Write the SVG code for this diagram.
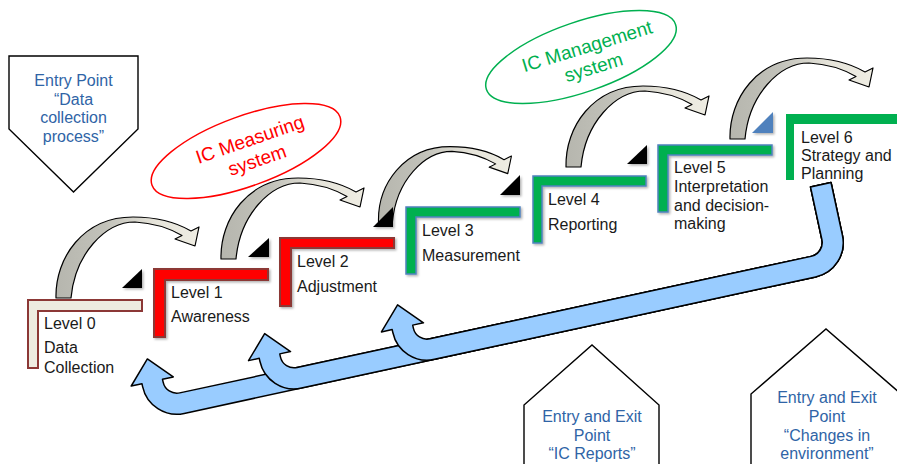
<svg xmlns="http://www.w3.org/2000/svg" width="897" height="464" viewBox="0 0 897 464">
<style>
  text { font-family: "Liberation Sans", Arial, Helvetica, sans-serif; font-size: 16px; }
  .lbl { fill: #1a1a1a; }
  .ent { fill: #2f64a6; text-anchor: middle; }
  .pent { fill: #ffffff; stroke: #000000; stroke-width: 1.4; }
  .red { fill: #ff0000; stroke: #8c3836; stroke-width: 2; }
  .cream { fill: #eeece1; stroke: #8c3836; stroke-width: 2; }
  .grn { fill: #00b050; stroke: #4f81bd; stroke-width: 1.5; }
  .tri { fill: #000000; }
  .garrow { fill: url(#gg); stroke: #000000; stroke-width: 1.2; stroke-linejoin: round; }
  .barrow { fill: #99ccff; stroke: #000000; stroke-width: 1.5; stroke-linejoin: round; }
</style>
<defs>
  <linearGradient id="gg" x1="0" y1="0" x2="1" y2="0">
    <stop offset="0" stop-color="#b6b6ae"/>
    <stop offset="0.35" stop-color="#c2c2ba"/>
    <stop offset="0.7" stop-color="#e6e4da"/>
    <stop offset="1" stop-color="#efede3"/>
  </linearGradient>
  <filter id="sh" x="-20%" y="-20%" width="150%" height="150%">
    <feDropShadow dx="1.5" dy="1.5" stdDeviation="1.2" flood-color="#000" flood-opacity="0.3"/>
  </filter>
  <path id="garr" d="M-7,0 C-8,-40 20,-81 70,-81 C96,-81 116,-74 128,-67 L136,-71 L132,-52 L112,-59 L119,-62.5 C106,-70 90,-75 72,-76 C42,-76 12,-44 8,0 Z"/>
</defs>

<!-- Entry points -->
<g id="entry-data">
  <polygon class="pent" points="9,56 138,56 138,129 73.5,192 9,129"/>
  <text class="ent"><tspan x="73.5" y="86">Entry Point</tspan><tspan x="73.5" y="104.5">“Data</tspan><tspan x="73.5" y="123">collection</tspan><tspan x="73.5" y="141.5">process”</tspan></text>
</g>
<g id="entry-reports">
  <polygon class="pent" points="524,470 524,405 592,345 659,405 659,470"/>
  <text class="ent"><tspan x="592" y="422">Entry and Exit</tspan><tspan x="592" y="441">Point</tspan><tspan x="592" y="459">“IC Reports”</tspan></text>
</g>
<g id="entry-env">
  <polygon class="pent" points="751,470 751,394 826,329 901,394 901,470"/>
  <text class="ent"><tspan x="827" y="403">Entry and Exit</tspan><tspan x="827" y="422">Point</tspan><tspan x="827" y="441">“Changes in</tspan><tspan x="827" y="459">environment”</tspan></text>
</g>

<!-- System ellipses -->
<g id="ic-measuring">
  <ellipse cx="246" cy="151" rx="100" ry="35" transform="rotate(-20 246 151)" fill="none" stroke="#ff0000" stroke-width="1.5"/>
  <text transform="translate(252,145.5) rotate(-19)" text-anchor="middle" fill="#ff0000" style="font-size:19px"><tspan x="0" y="0">IC Measuring</tspan><tspan x="0" y="22">system</tspan></text>
</g>
<g id="ic-management">
  <ellipse cx="581" cy="57" rx="100" ry="35" transform="rotate(-19 581 57)" fill="none" stroke="#00b050" stroke-width="1.5"/>
  <text transform="translate(589,52.5) rotate(-17)" text-anchor="middle" fill="#00b050" style="font-size:19px"><tspan x="0" y="0">IC Management</tspan><tspan x="0" y="22">system</tspan></text>
</g>

<!-- Levels -->
<g id="level0">
  <path class="cream" d="M28,300 H142 V311 H38 V368 H28 Z"/>
  <text class="lbl"><tspan x="44" y="329">Level 0</tspan><tspan x="44" y="353">Data</tspan><tspan x="44" y="373">Collection</tspan></text>
</g>
<g id="level1">
  <path class="red" filter="url(#sh)" d="M154,269 H268 V280 H165 V337 H154 Z"/>
  <text class="lbl"><tspan x="171" y="298">Level 1</tspan><tspan x="171" y="322">Awareness</tspan></text>
</g>
<g id="level2">
  <path class="red" filter="url(#sh)" d="M280,238 H394 V248 H291 V306 H280 Z"/>
  <text class="lbl"><tspan x="297" y="267">Level 2</tspan><tspan x="297" y="292">Adjustment</tspan></text>
</g>
<g id="level3">
  <path class="grn" filter="url(#sh)" d="M406,207 H520 V217 H416 V274 H406 Z"/>
  <text class="lbl"><tspan x="422" y="236">Level 3</tspan><tspan x="422" y="261">Measurement</tspan></text>
</g>
<g id="level4">
  <path class="grn" filter="url(#sh)" d="M533,176 H646 V186 H542 V243 H533 Z"/>
  <text class="lbl"><tspan x="548" y="205">Level 4</tspan><tspan x="548" y="230">Reporting</tspan></text>
</g>
<g id="level5">
  <path class="grn" filter="url(#sh)" d="M658,145 H772 V155 H668 V212 H658 Z"/>
  <text class="lbl"><tspan x="674" y="173">Level 5</tspan><tspan x="674" y="192">Interpretation</tspan><tspan x="674" y="210.5">and decision-</tspan><tspan x="674" y="229">making</tspan></text>
</g>
<g id="level6">
  <path fill="#00b050" d="M786,114 H897 V124 H794 V180 H786 Z"/>
  <text class="lbl"><tspan x="801" y="143">Level 6</tspan><tspan x="801" y="161">Strategy and</tspan><tspan x="801" y="179">Planning</tspan></text>
</g>

<!-- Connectors -->
<g id="connectors">
  <g id="feedback" transform="translate(170,395) rotate(-12.2)">
    <path class="barrow" d="M-14.5,-40 L7,-17 L-4,-17 L-4,-14 A14 14 0 0 0 10,0 L656,0 A14 14 0 0 0 670,-14 L670,-68 L691,-68 L691,-14 A35 35 0 0 1 656,21 L10,21 A35 35 0 0 1 -25,-14 L-25,-17 L-36,-17 Z"/>
    <path class="barrow" d="M105.5,-40 L127,-17 L116,-17 L116,-14 A14 14 0 0 0 130,0 L656,0 A14 14 0 0 0 670,-14 L670,-68 L691,-68 L691,-14 A35 35 0 0 1 656,21 L130,21 A35 35 0 0 1 95,-14 L95,-17 L84,-17 Z"/>
    <path class="barrow" d="M241.5,-40 L263,-17 L252,-17 L252,-14 A14 14 0 0 0 266,0 L656,0 A14 14 0 0 0 670,-14 L670,-68 L691,-68 L691,-14 A35 35 0 0 1 656,21 L266,21 A35 35 0 0 1 231,-14 L231,-17 L220,-17 Z"/>
  </g>
  <use href="#garr" class="garrow" transform="translate(63,298)"/>
  <use href="#garr" class="garrow" transform="translate(228,259)"/>
  <use href="#garr" class="garrow" transform="translate(385,222) scale(0.93)"/>
  <use href="#garr" class="garrow" transform="translate(573,167)"/>
  <use href="#garr" class="garrow" transform="translate(737,139)"/>
  <g id="steps-marks" filter="url(#sh)">
    <polygon class="tri" points="122,288 142,269 142,288"/>
    <polygon class="tri" points="248,257 269,238 269,257"/>
    <polygon class="tri" points="373,227 393,207 393,227"/>
    <polygon class="tri" points="500,195 520,175 520,195"/>
    <polygon class="tri" points="627,164 647,145 647,164"/>
    <polygon fill="#4f81bd" points="752,133 773,112 773,133"/>
  </g>
</g>
</svg>
